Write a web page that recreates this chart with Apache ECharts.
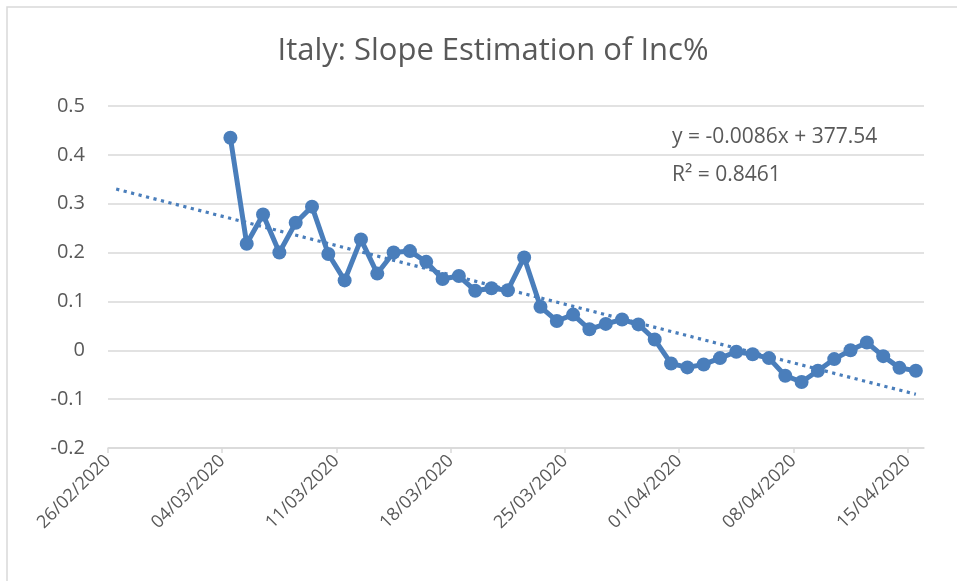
<!DOCTYPE html>
<html>
<head>
<meta charset="utf-8">
<script src="https://cdn.jsdelivr.net/npm/echarts@6/dist/echarts.min.js"></script>
<style>
  html, body { margin: 0; padding: 0; background: #fff; }
  #chart { width: 957px; height: 581px; }
</style>
</head>
<body>
<div id="chart"></div>
<script>
// tick labels of the date axis, one per week (day 0, 7, 14 ...)
var tickLabels = ["26/02/2020", "04/03/2020", "11/03/2020", "18/03/2020",
    "25/03/2020", "01/04/2020", "08/04/2020", "15/04/2020"];

// first data point is 04/03/2020 = day 7 after 26/02/2020
var firstDay = 7;

// slope estimation of Inc%, one value per day (04/03 .. 15/04)
var slopeValues = [0.435, 0.218, 0.278, 0.200, 0.261, 0.294, 0.197, 0.143, 0.227, 0.157,
    0.200, 0.203, 0.181, 0.146, 0.152, 0.122, 0.127, 0.123, 0.190, 0.089,
    0.060, 0.073, 0.043, 0.054, 0.063, 0.053, 0.022, -0.027, -0.035, -0.029,
    -0.016, -0.003, -0.008, -0.016, -0.052, -0.065, -0.042, -0.018, 0.000, 0.016,
    -0.012, -0.036, -0.042];

// linear trendline ends as drawn (day, value)
var trendStart = [0.5, 0.330];
var trendEnd = [49.5, -0.090];

var equationText = "y = -0.0086x + 377.54";
var r2Text = "R² = 0.8461";

// Excel puts each day's point in the middle of its slot
var lineData = [];
for (let i = 0; i < slopeValues.length; i++) {
    lineData.push([firstDay + i + 0.5, slopeValues[i]]);
}

var tickValues = [];
for (let i = 0; i < tickLabels.length; i++) {
    tickValues.push(i * 7);
}

var font = "'Open Sans', sans-serif";
var grey = "#595959";
var blue = "#4a7ebb";

var myChart = echarts.init(document.getElementById("chart"));
var option = {
    animation: false,
    title: {
        text: "Italy: Slope Estimation of Inc%",
        left: 488,
        textAlign: "center",
        top: 31,
        textStyle: {
            fontFamily: font,
            fontSize: 31,
            fontWeight: "normal",
            color: grey
        }
    },
    grid: {
        left: 108,
        right: 33,
        top: 106,
        bottom: 133
    },
    xAxis: {
        type: "value",
        min: 0,
        max: 50,
        splitLine: { show: false },
        axisLine: { show: true, onZero: false, lineStyle: { color: "#d9d9d9", width: 1.5 } },
        axisTick: {
            show: true,
            length: 5,
            customValues: tickValues,
            lineStyle: { color: "#d9d9d9", width: 1.5 }
        },
        axisLabel: {
            rotate: 45,
            margin: 10,
            customValues: tickValues,
            fontFamily: font,
            fontSize: 18,
            color: grey,
            formatter: function (v) {
                return tickLabels[Math.round(v / 7)];
            }
        }
    },
    yAxis: {
        type: "value",
        min: -0.2,
        max: 0.5,
        interval: 0.1,
        axisLine: { show: false },
        axisTick: { show: false },
        splitLine: { lineStyle: { color: "#d9d9d9", width: 1.5 } },
        axisLabel: {
            margin: 23,
            fontFamily: font,
            fontSize: 20,
            color: grey,
            formatter: function (v) {
                return String(Math.round(v * 10) / 10);
            }
        }
    },
    graphic: [
        {
            type: "rect",
            shape: { x: 7, y: 7, width: 1000, height: 1000 },
            style: { fill: "none", stroke: "#d9d9d9", lineWidth: 1.5 },
            silent: true
        },
        {
            type: "text",
            x: 672,
            y: 127,
            style: { text: equationText, font: "21px " + font, fill: grey }
        },
        {
            type: "text",
            x: 672,
            y: 165,
            style: { text: r2Text, font: "21px " + font, fill: grey }
        }
    ],
    series: [
        {
            name: "trend",
            type: "line",
            data: [trendStart, trendEnd],
            symbol: "none",
            z: 1,
            lineStyle: { color: blue, width: 3.2, type: [3.2, 4.5] }
        },
        {
            name: "slope",
            type: "line",
            data: lineData,
            symbol: "circle",
            symbolSize: 14,
            z: 2,
            itemStyle: { color: blue },
            lineStyle: { color: blue, width: 5 }
        }
    ]
};
myChart.setOption(option);
</script>
</body>
</html>
